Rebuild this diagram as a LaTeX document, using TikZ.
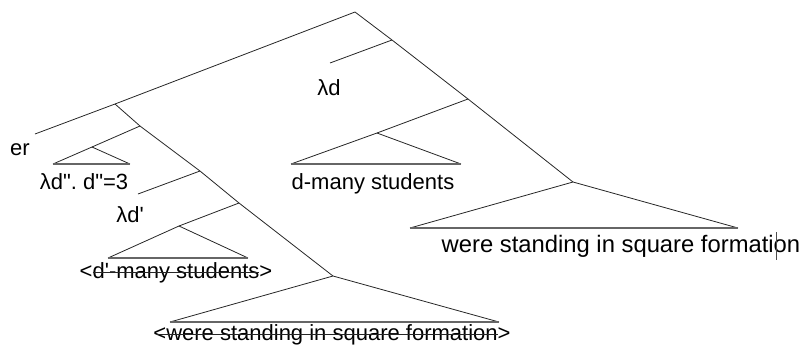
\documentclass[tikz,border=0pt]{standalone}
\usepackage{fontspec}
\setmainfont{Liberation Sans}[Ligatures=TeXOff]
\usetikzlibrary{positioning}
\frenchspacing

\tikzset{
  branch/.style={draw=black!85, line width=0.8pt},
  base/.style={draw=black!60, line width=1.1pt},
  strike/.style={draw=black!85, line width=1pt},
  leaf/.style={font=\fontsize{22}{26}\selectfont, inner sep=0pt, anchor=base},
}

\begin{document}
\begin{tikzpicture}[x=1pt, y=-1pt]
    \useasboundingbox (0,0) rectangle (804,349);

    % branching points
    \coordinate (root) at (355,12);
    \coordinate (erend) at (35,134);
    \coordinate (ra) at (392,40);
    \coordinate (lamend) at (330,63);
    \coordinate (rb) at (468,99);
    \coordinate (rc) at (573,182);
    \coordinate (la) at (115,104);
    \coordinate (lb) at (140,126);
    \coordinate (lc) at (200,171);
    \coordinate (lampend) at (138,194);
    \coordinate (ld) at (239,203);
    \coordinate (le) at (333,276);

    % triangles
    \coordinate (t1) at (92,147);  \coordinate (t1l) at (53,164);  \coordinate (t1r) at (130,164);
    \coordinate (t2) at (377,133); \coordinate (t2l) at (291,164); \coordinate (t2r) at (461,164);
    \coordinate (t3) at (179,226); \coordinate (t3l) at (108,258); \coordinate (t3r) at (248,258);
    \coordinate (t4l) at (410,228); \coordinate (t4r) at (738,228);
    \coordinate (t5l) at (170,322); \coordinate (t5r) at (499,322);

    % spine
    \draw[branch] (erend) -- (la) -- (root) -- (ra) -- (rb) -- (rc);
    \draw[branch] (la) -- (lb) -- (lc) -- (ld) -- (le);
    \draw[branch] (ra) -- (lamend);
    \draw[branch] (lc) -- (lampend);
    \draw[branch] (lb) -- (t1);
    \draw[branch] (rb) -- (t2);
    \draw[branch] (ld) -- (t3);

    % triangles
    \draw[branch] (t1l) -- (t1) -- (t1r);
    \draw[base] (t1l) -- (t1r);
    \draw[branch] (t2l) -- (t2) -- (t2r);
    \draw[base] (t2l) -- (t2r);
    \draw[branch] (t3l) -- (t3) -- (t3r);
    \draw[base] (t3l) -- (t3r);
    \draw[branch] (t4l) -- (rc) -- (t4r);
    \draw[base] (t4l) -- (t4r);
    \draw[branch] (t5l) -- (le) -- (t5r);
    \draw[base] (t5l) -- (t5r);

    % labels
    \node[leaf, anchor=base west] (er) at (10,155) {er};
    \node[leaf] (lamd) at (329,95) {λd};
    \node[leaf] (lamdpp) at (84,189) {λd". d"=3};
    \node[leaf] (lamdp) at (130,222) {λd'};
    \node[leaf] (dmany) at (373,189) {d-many students};
    \node[leaf] (dpmany) at (176,278) {<d'-many students>};
    \node[leaf, font=\fontsize{23.8}{28}\selectfont] (stand) at (621,252) {were standing in square formation};
    \node[leaf] (standcp) at (332,340) {<were standing in square formation>};

    % struck-out copies
    \draw[strike] ([xshift=13pt,yshift=6pt]dpmany.base west) -- ([xshift=-13pt,yshift=6pt]dpmany.base east);
    \draw[strike] ([xshift=4pt,yshift=6pt]standcp.base west) -- ([xshift=-13pt,yshift=6pt]standcp.base east);

    % caret
    \coordinate (caret) at (776,232);
    \draw[black!70, line width=1pt] (caret) -- ++(0,28);
\end{tikzpicture}
\end{document}
